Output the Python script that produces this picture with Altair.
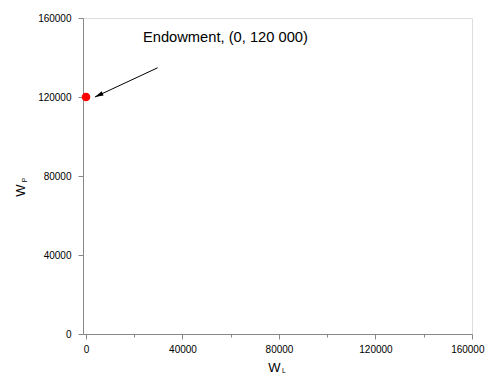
import altair as alt
import pandas as pd

# Data
endow_x = [0]
endow_y = [120000]
annotation_text = ["Endowment, (0, 120 000)"]
tick_values = list(range(0, 160001, 20000))

# annotation anchors (data units)
label_anchor = {"x": [23600], "y": [149900]}
arrow_from = {"x": [29700], "y": [134800]}
arrow_to = {"x": [3700], "y": [120000]}

FONT = "Liberation Sans"

xscale = alt.Scale(domain=[-1243, 160000], nice=False, zero=False)
yscale = alt.Scale(domain=[0, 160000], nice=False)

major_test = "datum.value % 40000 === 0"
label_expr = "datum.value % 40000 === 0 ? datum.label : ''"

xaxis = alt.Axis(
    values=tick_values, format="d", labelExpr=label_expr, grid=False,
    tickSize={"condition": {"test": major_test, "value": 5}, "value": 3},
    labelFlush=2, labelFlushOffset=12, labelOverlap=False, labelPadding=5,
    title="W", titleFontSize=13, titleFontWeight="normal", titleFont=FONT,
    titleX=191, titleY=37, titleBaseline="alphabetic", titleAlign="center",
)
yaxis = alt.Axis(
    values=tick_values, format="d", labelExpr=label_expr, grid=False,
    tickSize={"condition": {"test": major_test, "value": 5}, "value": 3},
    labelFlush=False, labelOverlap=False, labelPadding=7,
    title="W", titleFontSize=13, titleFontWeight="normal", titleFont=FONT,
    titleAngle=270, titleX=-59, titleY=172, titleBaseline="alphabetic", titleAlign="center",
)

pts = pd.DataFrame({"x": endow_x, "y": endow_y})
base = alt.Chart(pts).mark_point(
    filled=True, shape="circle", size=75, color="#ff0000", opacity=1
).encode(
    x=alt.X("x:Q", scale=xscale, axis=xaxis),
    y=alt.Y("y:Q", scale=yscale, axis=yaxis),
)

arrow_df = pd.DataFrame({
    "x": arrow_from["x"], "y": arrow_from["y"],
    "x2": arrow_to["x"], "y2": arrow_to["y"],
})
arrow_line = alt.Chart(arrow_df).mark_rule(color="black", strokeWidth=1).encode(
    x=alt.X("x:Q", scale=xscale), y=alt.Y("y:Q", scale=yscale),
    x2="x2:Q", y2="y2:Q",
)
head_df = pd.DataFrame({"x": arrow_to["x"], "y": arrow_to["y"]})
arrow_head = alt.Chart(head_df).mark_point(
    shape="M0,0 L-0.45,1.7 L0.45,1.7 Z", filled=True, color="black",
    size=100, angle=245, opacity=1,
).encode(x=alt.X("x:Q", scale=xscale), y=alt.Y("y:Q", scale=yscale))

lab_df = pd.DataFrame({"x": label_anchor["x"], "y": label_anchor["y"], "t": annotation_text})
label = alt.Chart(lab_df).mark_text(
    align="left", baseline="middle", font=FONT, fontSize=14.7, color="black"
).encode(x=alt.X("x:Q", scale=xscale), y=alt.Y("y:Q", scale=yscale), text="t:N")

sub_l = alt.Chart(pd.DataFrame({"t": ["L"]})).mark_text(
    align="left", baseline="alphabetic", font=FONT, fontSize=7, color="black"
).encode(x=alt.value(199), y=alt.value(355), text="t:N")
sub_p = alt.Chart(pd.DataFrame({"t": ["P"]})).mark_text(
    align="center", baseline="alphabetic", font=FONT, fontSize=7, color="black", angle=270
).encode(x=alt.value(-56), y=alt.value(162), text="t:N")

chart = alt.layer(base, arrow_line, arrow_head, label, sub_l, sub_p).properties(
    width=389, height=316,
    autosize=alt.AutoSizeParams(type="none"),
    padding={"left": 75, "top": 10, "right": 13, "bottom": 41},
).configure_view(stroke=None).configure_axis(
    domainColor="black", tickColor="black", labelColor="black", titleColor="black",
    labelFont=FONT, labelFontSize=11.5, domainWidth=1, tickWidth=1,
).configure(background="white")

chart.save("out.html", embed_options={"renderer": "svg", "actions": False})
